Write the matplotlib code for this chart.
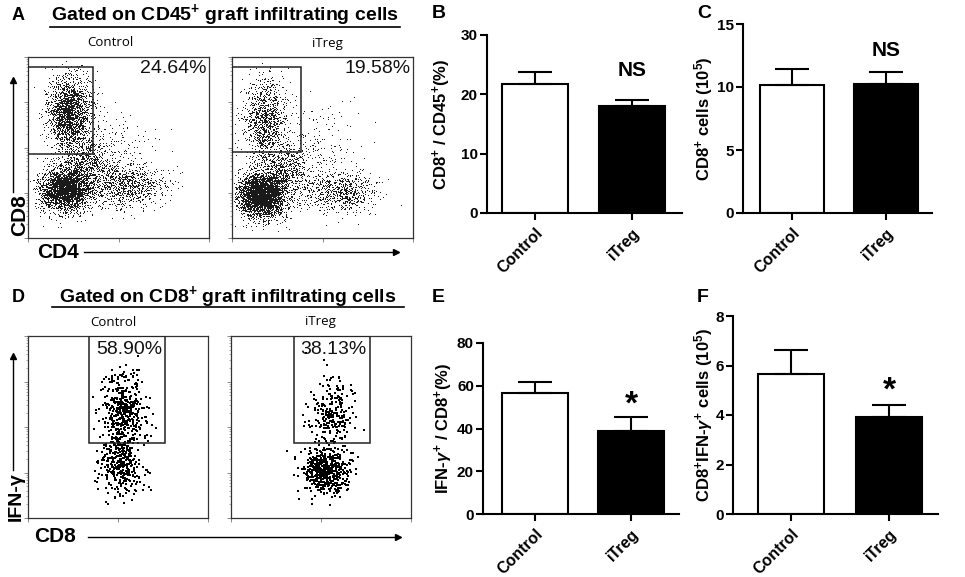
import numpy as np
import matplotlib
matplotlib.use("Agg")
import matplotlib.pyplot as plt
from matplotlib.patches import Rectangle
from matplotlib.lines import Line2D

plt.rcParams['font.family'] = ['Liberation Sans', 'DejaVu Sans']
plt.rcParams['mathtext.fontset'] = 'custom'
plt.rcParams['mathtext.rm'] = 'Liberation Sans:bold'
plt.rcParams['mathtext.bf'] = 'Liberation Sans:bold'
plt.rcParams['mathtext.it'] = 'Liberation Sans:bold:italic'

# ---------------- data ----------------
groups = ["Control", "iTreg"]

# bar panels: means and upper error (SEM)
b_means = [21.7, 18.1]
b_err = [2.0, 1.0]
c_means = [10.15, 10.22]
c_err = [1.3, 0.95]
e_means = [56.6, 38.7]
e_err = [5.0, 6.5]
f_means = [5.66, 3.92]
f_err = [0.98, 0.48]

b_sig = "NS"
c_sig = "NS"
e_sig = "*"
f_sig = "*"

# flow panels: gate percentages
a_pcts = ["24.64%", "19.58%"]
d_pcts = ["58.90%", "38.13%"]

# flow populations (log10 decades): [x_center, y_center, sx, sy, n_events]
a_ctrl_pops = [[0.92, 2.75, 0.24, 0.40, 2000],
               [0.82, 1.05, 0.27, 0.24, 2700],
               [1.25, 1.60, 0.30, 0.32, 800],
               [2.20, 1.13, 0.42, 0.24, 900],
               [1.80, 2.10, 0.50, 0.50, 170]]
a_treg_pops = [[0.72, 2.60, 0.24, 0.45, 1100],
               [0.65, 0.92, 0.26, 0.24, 3200],
               [1.10, 1.45, 0.32, 0.34, 800],
               [2.38, 1.00, 0.38, 0.23, 700],
               [1.85, 2.00, 0.50, 0.50, 220]]
d_ctrl_pops = [[2.12, 2.35, 0.24, 0.45, 430],
               [2.05, 1.20, 0.24, 0.33, 330]]
d_treg_pops = [[2.22, 2.20, 0.24, 0.45, 260],
               [2.10, 1.02, 0.25, 0.25, 500]]

# gates in decades: [x0, x1, y0, y1]
a_gates = [[0.0, 1.44, 1.86, 3.78], [0.0, 1.52, 1.90, 3.78]]
d_gates = [[1.35, 3.04, 1.65, 4.0], [1.40, 3.09, 1.65, 4.0]]

# ---------------- layout helpers ----------------
W, H = 965, 577
fig = plt.figure(figsize=(W / 100, H / 100), dpi=100)


def rect(x0, y0, x1, y1):
    return [x0 / W, 1 - y1 / H, (x1 - x0) / W, (y1 - y0) / H]


def ftext(x, y, s, **kw):
    fig.text(x / W, 1 - y / H, s, **kw)


rng = np.random.default_rng(7)


def flow_panel(box, pops, gate, pct, pct_pos, pct_ha, pixel, mcolor):
    ax = fig.add_axes(rect(*box))
    xs, ys = [], []
    for cx, cy, sx, sy, n in pops:
        xs.append(rng.normal(cx, sx, n))
        ys.append(rng.normal(cy, sy, n))
    x = np.concatenate(xs)
    y = np.concatenate(ys)
    keep = (x > 0.05) & (x < 3.95) & (y > 0.05) & (y < 3.95)
    if pixel:
        ax.plot(10 ** x[keep], 10 ** y[keep], ',', color=mcolor)
    else:
        ax.scatter(10 ** x[keep], 10 ** y[keep], s=1.6, c=mcolor,
                   marker='s', linewidths=0)
    ax.set_xscale('log')
    ax.set_yscale('log')
    ax.set_xlim(1, 1e4)
    ax.set_ylim(1, 1e4)
    gx0, gx1, gy0, gy1 = gate
    ax.add_patch(Rectangle((10 ** gx0, 10 ** gy0), 10 ** gx1 - 10 ** gx0,
                           10 ** gy1 - 10 ** gy0, fill=False,
                           edgecolor='#222222', linewidth=1.1, zorder=3))
    ax.text(pct_pos[0], pct_pos[1], pct, transform=ax.transAxes,
            fontsize=14, ha=pct_ha, va='top', color='#111111',
            family=['Liberation Sans'], fontweight='normal')
    for s in ax.spines.values():
        s.set_linewidth(0.9)
        s.set_color('#333333')
    ax.tick_params(which='major', length=3, width=0.6, color='#777777',
                   labelleft=False, labelbottom=False)
    ax.tick_params(which='minor', length=1.6, width=0.5, color='#888888',
                   labelleft=False, labelbottom=False)
    return ax


# ---------------- panel A ----------------
ftext(12, 15, "A", fontsize=13, fontweight='bold', va='center', ha='left')
ftext(225, 15, "Gated on CD45$^{+}$ graft infiltrating cells", fontsize=14,
      fontweight='bold', ha='center', va='center')
fig.add_artist(Line2D([50 / W, 400 / W], [1 - 27 / H, 1 - 27 / H],
                      color='black', linewidth=1.2))
ftext(110, 43, groups[0], fontsize=9.5, ha='center', va='center',
      family=['Open Sans'])
ftext(327, 43, groups[1], fontsize=9.5, ha='center', va='center',
      family=['Open Sans'])

flow_panel((28, 57, 209, 238), a_ctrl_pops, a_gates[0], a_pcts[0],
           (0.985, 0.985), 'right', True, '#1a1a1a')
flow_panel((232, 57, 413, 238), a_treg_pops, a_gates[1], a_pcts[1],
           (0.985, 0.985), 'right', True, '#1a1a1a')

ftext(20, 215, "CD8", fontsize=15, fontweight='bold', rotation=90,
      ha='center', va='center')
fig.add_artist(Line2D([13 / W, 13 / W], [1 - 192 / H, 1 - 80 / H],
                      color='black', linewidth=1.0))
fig.add_artist(Line2D([13 / W], [1 - 80 / H], marker='^', markersize=4,
                      color='black'))
ftext(58, 252, "CD4", fontsize=15, fontweight='bold', ha='center',
      va='center')
fig.add_artist(Line2D([84 / W, 396 / W], [1 - 252 / H, 1 - 252 / H],
                      color='black', linewidth=1.0))
fig.add_artist(Line2D([396 / W], [1 - 252 / H], marker='>', markersize=4,
                      color='black'))

# ---------------- panel D ----------------
ftext(12, 298, "D", fontsize=13, fontweight='bold', va='center', ha='left')
ftext(228, 297, "Gated on CD8$^{+}$ graft infiltrating cells", fontsize=14,
      fontweight='bold', ha='center', va='center')
fig.add_artist(Line2D([52 / W, 404 / W], [1 - 307 / H, 1 - 307 / H],
                      color='black', linewidth=1.2))
ftext(113, 322, groups[0], fontsize=9.5, ha='center', va='center',
      family=['Open Sans'])
ftext(320, 322, groups[1], fontsize=9.5, ha='center', va='center',
      family=['Open Sans'])

flow_panel((28, 336, 208, 518), d_ctrl_pops, d_gates[0], d_pcts[0],
           (0.56, 0.975), 'center', False, 'black')
flow_panel((231, 336, 411, 518), d_treg_pops, d_gates[1], d_pcts[1],
           (0.57, 0.975), 'center', False, 'black')

ftext(16, 497, "IFN-γ", fontsize=14, fontweight='bold', rotation=90,
      ha='center', va='center')
fig.add_artist(Line2D([13 / W, 13 / W], [1 - 470 / H, 1 - 356 / H],
                      color='black', linewidth=1.0))
fig.add_artist(Line2D([13 / W], [1 - 356 / H], marker='^', markersize=4,
                      color='black'))
ftext(55, 537, "CD8", fontsize=15, fontweight='bold', ha='center',
      va='center')
fig.add_artist(Line2D([88 / W, 398 / W], [1 - 537 / H, 1 - 537 / H],
                      color='black', linewidth=1.0))
fig.add_artist(Line2D([398 / W], [1 - 537 / H], marker='>', markersize=4,
                      color='black'))


# ---------------- bar panels ----------------
def bar_panel(box, xlim, ylim, yticks, means, errs, sig, sig_y, sig_size,
              ylabel, ylabel_x, letter, letter_xy, width):
    ax = fig.add_axes(rect(*box))
    xpos = np.arange(len(groups))
    ax.bar(xpos, means, width=width, color=['white', 'black'],
           edgecolor='black', linewidth=1.5, zorder=2)
    ax.errorbar(xpos, means, yerr=[np.zeros(len(errs)), errs], fmt='none',
                ecolor='black', elinewidth=1.5, capsize=12.5, capthick=1.5,
                zorder=3)
    ax.set_xlim(*xlim)
    ax.set_ylim(*ylim)
    ax.set_yticks(yticks)
    ax.set_yticklabels([str(t) for t in yticks], fontsize=11,
                       fontweight='bold')
    ax.set_xticks(xpos)
    ax.set_xticklabels(groups, rotation=45, ha='right',
                       rotation_mode='anchor', fontsize=11.5,
                       fontweight='bold')
    for side in ['top', 'right']:
        ax.spines[side].set_visible(False)
    for side in ['left', 'bottom']:
        ax.spines[side].set_linewidth(1.5)
    ax.tick_params(axis='both', length=5, width=1.5, pad=1.5)
    ax.tick_params(axis='x', pad=4)
    ax.text(1, sig_y, sig, ha='center', va='center', fontsize=sig_size,
            fontweight='bold')
    cy = (box[1] + box[3]) / 2
    ftext(ylabel_x, cy, ylabel, rotation=90, ha='center', va='center',
          fontsize=12, fontweight='bold')
    ftext(letter_xy[0], letter_xy[1], letter, fontsize=14,
          fontweight='bold', ha='left', va='center')
    ax.set_facecolor('none')
    return ax


bar_panel((487, 35, 682, 213), (-0.495, 1.515), (0, 30), [0, 10, 20, 30],
          b_means, b_err, b_sig, 24.1, 15,
          "CD8$^{+}$ / CD45$^{+}$(%)", 442, "B", (432, 14), 0.68)
bar_panel((743, 24, 932, 213), (-0.52, 1.49), (0, 15), [0, 5, 10, 15],
          c_means, c_err, c_sig, 12.9, 15,
          "CD8$^{+}$ cells (10$^{5}$)", 704, "C", (697, 14), 0.68)
bar_panel((483, 343, 679, 514), (-0.54, 1.5), (0, 80), [0, 20, 40, 60, 80],
          e_means, e_err, e_sig, 51.0, 24,
          "IFN-$\\gamma^{+}$ / CD8$^{+}$(%)", 444, "E", (432, 298), 0.68)
bar_panel((733, 316, 938, 514), (-0.59, 1.5), (0, 8), [0, 2, 4, 6, 8],
          f_means, f_err, f_sig, 4.95, 24,
          "CD8$^{+}$IFN-$\\gamma^{+}$ cells (10$^{5}$)", 704, "F", (697, 298),
          0.67)

fig.savefig("out.png", dpi=100)
